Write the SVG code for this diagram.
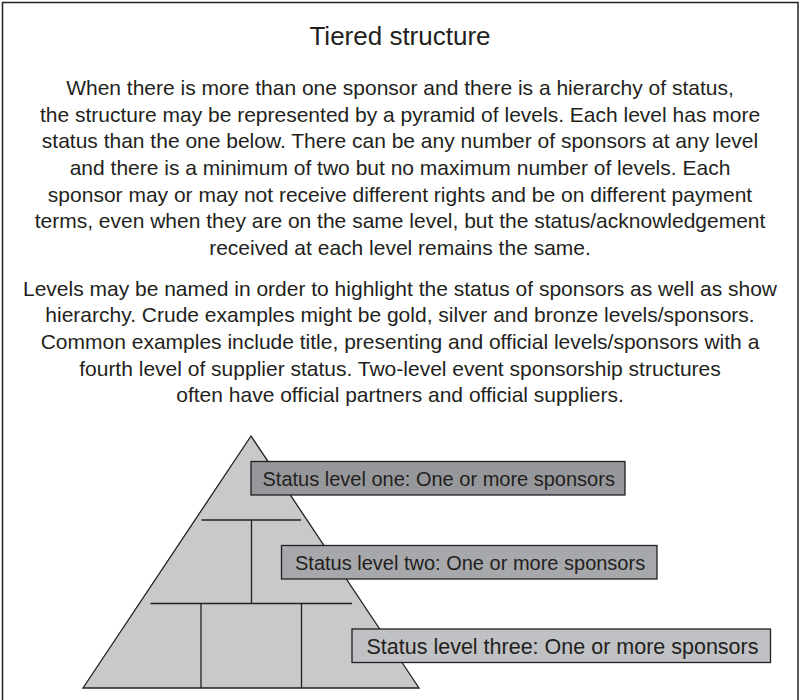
<svg xmlns="http://www.w3.org/2000/svg" width="800" height="700" viewBox="0 0 800 700">
<style>
  text { font-family: "Liberation Sans", Arial, sans-serif; fill: #231f20; }
  .title { font-size: 26px; text-anchor: middle; }
  .body { font-size: 21px; text-anchor: middle; }
  .lbl { font-size: 20px; }
  .lbl3 { font-size: 21.5px; }
  .ln { stroke: #231f20; stroke-width: 1.3; fill: none; }
  .box { stroke: #231f20; stroke-width: 1.3; }
</style>
<rect x="0" y="0" width="800" height="700" fill="#ffffff"/>
<rect x="2.5" y="2.5" width="795.5" height="720" fill="none" stroke="#231f20" stroke-width="1.5"/>
<g id="title">
  <text class="title" x="400" y="45">Tiered structure</text>
</g>
<g id="paragraph1">
  <text class="body" x="400" y="95">When there is more than one sponsor and there is a hierarchy of status,</text>
  <text class="body" x="400" y="121.7">the structure may be represented by a pyramid of levels. Each level has more</text>
  <text class="body" x="400" y="148.3">status than the one below. There can be any number of sponsors at any level</text>
  <text class="body" x="400" y="175">and there is a minimum of two but no maximum number of levels. Each</text>
  <text class="body" x="400" y="201.7">sponsor may or may not receive different rights and be on different payment</text>
  <text class="body" x="400" y="228.3">terms, even when they are on the same level, but the status/acknowledgement</text>
  <text class="body" x="400" y="255">received at each level remains the same.</text>
</g>
<g id="paragraph2">
  <text class="body" x="400" y="295.7">Levels may be named in order to highlight the status of sponsors as well as show</text>
  <text class="body" x="400" y="322.3">hierarchy. Crude examples might be gold, silver and bronze levels/sponsors.</text>
  <text class="body" x="400" y="349">Common examples include title, presenting and official levels/sponsors with a</text>
  <text class="body" x="400" y="375.7">fourth level of supplier status. Two-level event sponsorship structures</text>
  <text class="body" x="400" y="402.3">often have official partners and official suppliers.</text>
</g>
<g id="pyramid">
  <polygon points="251,436 83,688 419,688" class="ln" style="fill:#c8c9cb"/>
  <line class="ln" x1="201.5" y1="520" x2="301" y2="520"/>
  <line class="ln" x1="251.5" y1="520" x2="251.5" y2="603.5"/>
  <line class="ln" x1="150.5" y1="603.5" x2="352" y2="603.5"/>
  <line class="ln" x1="201" y1="603.5" x2="201" y2="688"/>
  <line class="ln" x1="301.5" y1="603.5" x2="301.5" y2="688"/>
</g>
<g id="level1">
  <rect class="box" x="251" y="461.5" width="374" height="33.5" fill="#96979a"/>
  <text class="lbl" x="262.5" y="486">Status level one: One or more sponsors</text>
</g>
<g id="level2">
  <rect class="box" x="281.5" y="545.5" width="375.5" height="33.5" fill="#a7a8ab"/>
  <text class="lbl" x="295" y="570">Status level two: One or more sponsors</text>
</g>
<g id="level3">
  <rect class="box" x="352" y="629" width="418.5" height="33.5" fill="#c0c1c4"/>
  <text class="lbl3" x="366.5" y="654">Status level three: One or more sponsors</text>
</g>
</svg>
